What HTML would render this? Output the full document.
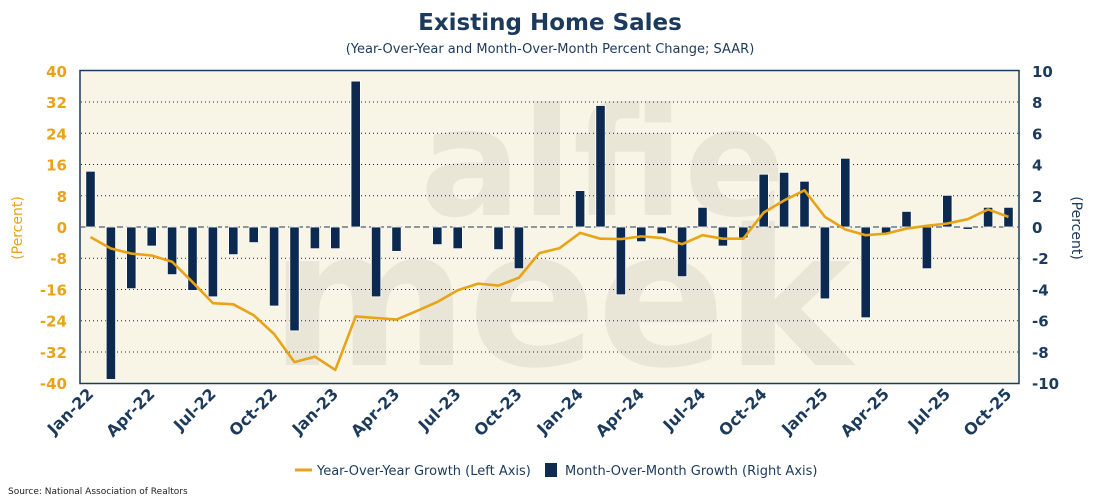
<!DOCTYPE html>
<html><head><meta charset="utf-8">
<style>
body{margin:0;background:#fff;width:1100px;height:500px;overflow:hidden;font-family:"DejaVu Sans","Liberation Sans",sans-serif;}
svg text{font-family:"DejaVu Sans","Liberation Sans",sans-serif;}
</style></head>
<body>
<svg id="chart" width="1100" height="500" viewBox="0 0 1100 500" xmlns="http://www.w3.org/2000/svg">
<text x="550" y="30" text-anchor="middle" font-size="23" font-weight="bold" fill="#1b3a5c">Existing Home Sales</text>
<text x="550" y="53" text-anchor="middle" font-size="13" fill="#1b3a5c">(Year-Over-Year and Month-Over-Month Percent Change; SAAR)</text>
<rect x="80" y="70.5" width="939" height="313" fill="#f8f5e6"/>
<g fill="#e9e6d7" font-weight="bold">
<text x="420" y="215" font-size="150">alfie</text>
<text x="270" y="365" font-size="190">meek</text>
</g>
<g id="grid"></g>
<g id="bars"></g>
<g id="line"></g>
<rect x="80" y="70.5" width="939" height="313" fill="none" stroke="#1b3a5c" stroke-width="1.5"/>
<g id="axes"></g>
<text transform="translate(22,228) rotate(-90)" text-anchor="middle" font-size="14" fill="#e8a317">(Percent)</text>
<text transform="translate(1072,228) rotate(90)" text-anchor="middle" font-size="14" fill="#1b3a5c">(Percent)</text>
<g>
<line x1="295" y1="470" x2="312" y2="470" stroke="#e8a317" stroke-width="3"/>
<text x="317" y="475" font-size="13" fill="#1b3a5c">Year-Over-Year Growth (Left Axis)</text>
<rect x="545" y="463" width="12" height="14" fill="#0f2d52"/>
<text x="565" y="475" font-size="13" fill="#1b3a5c">Month-Over-Month Growth (Right Axis)</text>
</g>
<text x="8" y="494" font-size="9" fill="#222">Source: National Association of Realtors</text>
</svg>
<script>
const months = ["Jan-22","Feb-22","Mar-22","Apr-22","May-22","Jun-22","Jul-22","Aug-22","Sep-22","Oct-22","Nov-22","Dec-22","Jan-23","Feb-23","Mar-23","Apr-23","May-23","Jun-23","Jul-23","Aug-23","Sep-23","Oct-23","Nov-23","Dec-23","Jan-24","Feb-24","Mar-24","Apr-24","May-24","Jun-24","Jul-24","Aug-24","Sep-24","Oct-24","Nov-24","Dec-24","Jan-25","Feb-25","Mar-25","Apr-25","May-25","Jun-25","Jul-25","Aug-25","Sep-25","Oct-25"];
const momGrowth = [3.57,-9.76,-3.95,-1.22,-3.05,-4.06,-4.47,-1.77,-1.0,-5.06,-6.65,-1.39,-1.39,9.34,-4.47,-1.56,0,-1.13,-1.39,0,-1.45,-2.67,0,0,2.33,7.78,-4.34,-0.94,-0.43,-3.18,1.26,-1.22,-0.7,3.38,3.5,2.93,-4.6,4.4,-5.81,-0.43,1.0,-2.67,2.03,-0.15,1.26,1.26];
const yoyGrowth = [-2.6,-5.5,-6.8,-7.3,-8.9,-14.1,-19.5,-19.8,-22.6,-27.4,-34.6,-33.2,-36.6,-22.9,-23.3,-23.7,-21.5,-19.2,-16.2,-14.5,-15.0,-13.0,-6.7,-5.4,-1.5,-3.0,-3.1,-2.4,-2.8,-4.4,-2.1,-3.0,-3.0,3.7,6.8,9.4,2.6,-0.6,-2.1,-1.7,-0.4,0.3,0.9,2.0,4.5,2.6];
const leftTicks = [40,32,24,16,8,0,-8,-16,-24,-32,-40];
const rightTicks = [10,8,6,4,2,0,-2,-4,-6,-8,-10];

const NS="http://www.w3.org/2000/svg";
const plotTop=70.8, plotBot=383.2;
const yL=v=>plotTop+(40-v)/80*(plotBot-plotTop);
const yR=v=>plotTop+(10-v)/20*(plotBot-plotTop);
const x0=90.5, step=(1008.5-90.5)/(months.length-1);
const xAt=i=>x0+i*step;
function mk(tag,parent){const e=document.createElementNS(NS,tag);document.getElementById(parent).appendChild(e);return e;}

leftTicks.forEach((t)=>{
  if(t!==40&&t!==-40&&t!==0){
    const g=mk('line','grid');
    
    
    g.setAttribute('x1',81);g.setAttribute('x2',1018);g.setAttribute('y1',yL(t));g.setAttribute('y2',yL(t));
    g.setAttribute('stroke','#222');g.setAttribute('stroke-width','1');g.setAttribute('stroke-dasharray','1 3');
  }
  const lt=mk('text','axes');
  
  
  lt.setAttribute('x',67);lt.setAttribute('y',yL(t)+6);lt.setAttribute('text-anchor','end');
  lt.setAttribute('font-size','15');lt.setAttribute('font-weight','bold');lt.setAttribute('fill','#e8a317');
  lt.textContent=t;
});
rightTicks.forEach(t=>{
  const rt=mk('text','axes');
  
  
  rt.setAttribute('x',1032);rt.setAttribute('y',yR(t)+6);rt.setAttribute('text-anchor','start');
  rt.setAttribute('font-size','15');rt.setAttribute('font-weight','bold');rt.setAttribute('fill','#1b3a5c');
  rt.textContent=t;
});
const z=mk('line','grid');


z.setAttribute('x1',81);z.setAttribute('x2',1018);z.setAttribute('y1',yR(0));z.setAttribute('y2',yR(0));
z.setAttribute('stroke','#1b3a5c');z.setAttribute('stroke-width','1');z.setAttribute('stroke-dasharray','6 3');

momGrowth.forEach((v,i)=>{
  const b=mk('rect','bars');
  
  
  const y1=yR(Math.max(v,0)), y2=yR(Math.min(v,0));
  b.setAttribute('x',xAt(i)-4.7);b.setAttribute('width',9.4);
  b.setAttribute('y',y1);b.setAttribute('height',Math.max(y2-y1,0));
  b.setAttribute('fill','#0c2a50');b.setAttribute('stroke','#fff');b.setAttribute('stroke-width','0.8');
});
const p=mk('polyline','line');


p.setAttribute('points',yoyGrowth.map((v,i)=>xAt(i)+','+yL(v)).join(' '));
p.setAttribute('fill','none');p.setAttribute('stroke','#e8a317');p.setAttribute('stroke-width','2.6');p.setAttribute('stroke-linejoin','round');

months.forEach((m,i)=>{
  if(i%3!==0) return;
  const t=mk('text','axes');
  
  
  const x=xAt(i)+4, y=395;
  t.setAttribute('transform','translate('+x+','+y+') rotate(-45)');
  t.setAttribute('text-anchor','end');t.setAttribute('font-size','16');t.setAttribute('font-weight','bold');t.setAttribute('fill','#1b3a5c');
  t.textContent=m;
});
</script>
</body></html>
